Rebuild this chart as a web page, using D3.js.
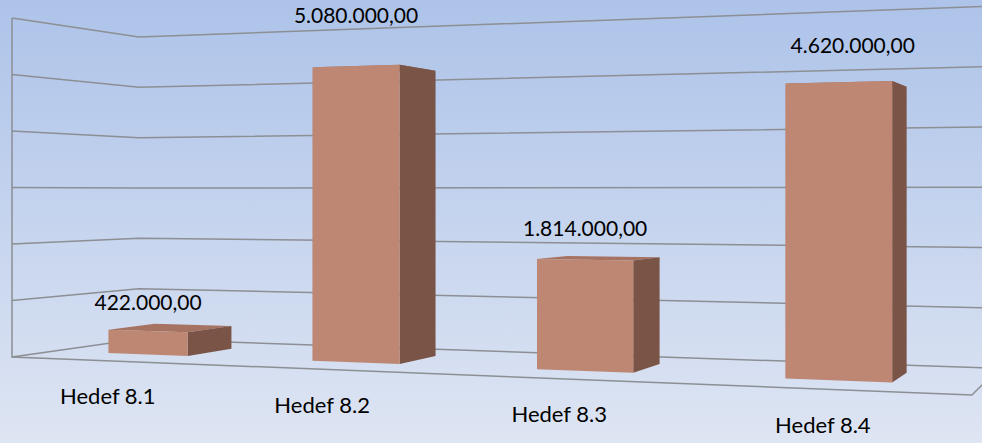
<!DOCTYPE html>
<html>
<head>
<meta charset="utf-8">
<script src="https://cdn.jsdelivr.net/npm/d3@7"></script>
<style>
  body { margin: 0; }
  text { font-family: Lato, "Open Sans", sans-serif; fill: #000; }
</style>
</head>
<body>
<div class="graph"></div>
<script>
const width = 982;
const height = 443;

const categories = ['Hedef 8.1', 'Hedef 8.2', 'Hedef 8.3', 'Hedef 8.4'];
const values = [422000, 5080000, 1814000, 4620000];
const tickValues = [0, 1000000, 2000000, 3000000, 4000000, 5000000, 6000000];

// label lifts above the default spot (px)
const labelNudge = [[0, 0], [0, 22], [0, 3], [14, 8]];

// perspective of the 3d box: floor x 0..1, value 0..1, depth 0..1
const cam = {a0: 12, a1: 777.9, a2: 144.03, b0: 164.9, b1: -339, cy: 192.1, c1: -0.1873, c2: 0.1225};
const proj = (X, Y, Z) => {
  const w = 1 + cam.c1 * X + cam.c2 * Z;
  return [(cam.a0 + cam.a1 * X + cam.a2 * Z) / w, cam.cy + (cam.b0 + cam.b1 * Y) / w];
};

const tr = d3.formatLocale({decimal: ',', thousands: '.', grouping: [3], currency: ['', '']});
const fmt = tr.format(',.2f');

const svg = d3.select('.graph').append('svg')
  .attr('width', width)
  .attr('height', height);

const grad = svg.append('defs').append('linearGradient')
  .attr('id', 'bg')
  .attr('x1', 0).attr('y1', 0).attr('x2', 0).attr('y2', 1);
grad.append('stop').attr('offset', '0%').attr('stop-color', '#adc3e9');
grad.append('stop').attr('offset', '100%').attr('stop-color', '#dee5f3');

svg.append('rect')
  .attr('width', width)
  .attr('height', height)
  .attr('fill', 'url(#bg)');

// categories sit a touch left of the floor's centre line
const xScale = d3.scaleBand().domain(categories).range([-0.005, 0.995]);
const yScale = d3.scaleLinear().domain([0, 6000000]).range([0, 1]);
const barW = xScale.bandwidth() * 0.4;
const zFront = 0.31, zBack = 0.69;

const line = d3.line();
const poly = pts => line(pts.map(p => proj(...p))) + 'Z';

const walls = svg.append('g')
  .attr('fill', 'none')
  .attr('stroke', '#8c8f94')
  .attr('stroke-width', 1.5);

// gridlines on side wall and back wall
walls.selectAll('.grid')
  .data(tickValues)
  .join('path')
  .attr('class', 'grid')
  .attr('d', t => {
    const y = yScale(t);
    return line([proj(0, y, 0), proj(0, y, 1), proj(1, y, 1)]);
  });

// front edge of side wall and floor outline
walls.append('path')
  .attr('d', line([proj(0, 1, 0), proj(0, 0, 0), proj(1, 0, 0), proj(1, 0, 1)]));

const bars = svg.append('g');

categories.forEach((c, i) => {
  const x0 = xScale(c) + (xScale.bandwidth() - barW) / 2;
  const x1 = x0 + barW;
  const v = yScale(values[i]);
  const g = bars.append('g');
  g.append('path')
    .attr('d', poly([[x0, v, zFront], [x1, v, zFront], [x1, v, zBack], [x0, v, zBack]]))
    .attr('fill', '#a67261');
  g.append('path')
    .attr('d', poly([[x1, 0, zFront], [x1, v, zFront], [x1, v, zBack], [x1, 0, zBack]]))
    .attr('fill', '#7a5447');
  g.append('path')
    .attr('d', poly([[x0, 0, zFront], [x0, v, zFront], [x1, v, zFront], [x1, 0, zFront]]))
    .attr('fill', '#bd8773');

  const pl = proj(x0, v, zFront), pr = proj(x1, v, zFront);
  svg.append('text')
    .attr('x', (pl[0] + pr[0]) / 2 + labelNudge[i][0])
    .attr('y', Math.min(pl[1], pr[1]) - 20 - labelNudge[i][1])
    .attr('text-anchor', 'middle')
    .style('font-size', '21px')
    .text(fmt(values[i]));

  const pc = proj(xScale(c) + xScale.bandwidth() / 2, 0, 0);
  svg.append('text')
    .attr('x', pc[0])
    .attr('y', pc[1] + 43.5)
    .attr('text-anchor', 'middle')
    .style('font-size', '22px')
    .text(c);
});
</script>
</body>
</html>
